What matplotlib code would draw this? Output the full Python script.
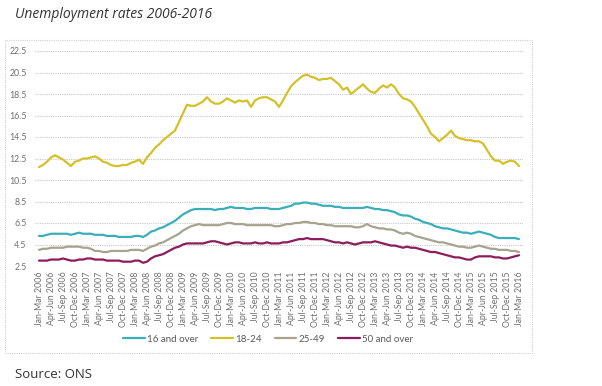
import numpy as np
import matplotlib.pyplot as plt
from matplotlib.patches import Rectangle

plt.rcParams['font.family'] = ['Lato', 'DejaVu Sans']

# rolling three-month periods, Jan-Mar 2006 .. Jan-Mar 2016 (monthly steps)
quarters = ['Jan-Mar', 'Apr-Jun', 'Jul-Sep', 'Oct-Dec']
years = list(range(2006, 2017))

age_16_over = [5.3, 5.3, 5.4, 5.5, 5.5, 5.5, 5.5, 5.5, 5.4, 5.5, 5.6, 5.5,
               5.5, 5.5, 5.4, 5.4, 5.4, 5.3, 5.3, 5.3, 5.2, 5.2, 5.2, 5.2,
               5.3, 5.3, 5.2, 5.4, 5.7, 5.8, 6.0, 6.1, 6.3, 6.5, 6.7, 7.0,
               7.3, 7.5, 7.7, 7.8, 7.8, 7.8, 7.8, 7.8, 7.7, 7.8, 7.8, 7.9,
               8.0, 7.9, 7.9, 7.9, 7.8, 7.8, 7.9, 7.9, 7.9, 7.9, 7.8, 7.8,
               7.8, 7.9, 8.0, 8.1, 8.3, 8.3, 8.4, 8.4, 8.3, 8.3, 8.2, 8.1,
               8.1, 8.1, 8.0, 8.0, 7.9, 7.9, 7.9, 7.9, 7.9, 7.9, 8.0, 7.9,
               7.8, 7.8, 7.7, 7.7, 7.6, 7.5, 7.3, 7.2, 7.2, 7.1, 6.9, 6.8,
               6.6, 6.5, 6.4, 6.2, 6.1, 6.0, 6.0, 5.9, 5.8, 5.7, 5.6, 5.6,
               5.5, 5.6, 5.7, 5.6, 5.5, 5.4, 5.2, 5.1, 5.1, 5.1, 5.1, 5.1,
               5.0]

age_18_24 = [11.7, 11.9, 12.2, 12.6, 12.8, 12.6, 12.4, 12.1, 11.8, 12.2, 12.3, 12.5,
             12.5, 12.6, 12.7, 12.5, 12.2, 12.1, 11.9, 11.8, 11.8, 11.9, 11.9, 12.1,
             12.2, 12.4, 12.0, 12.6, 13.0, 13.5, 13.8, 14.2, 14.5, 14.8, 15.1, 15.9,
             16.7, 17.5, 17.4, 17.4, 17.6, 17.8, 18.2, 17.8, 17.6, 17.6, 17.8, 18.1,
             17.9, 17.7, 17.9, 17.8, 17.9, 17.3, 17.9, 18.1, 18.2, 18.2, 18.0, 17.8,
             17.3, 17.9, 18.6, 19.2, 19.6, 19.9, 20.2, 20.3, 20.1, 20.0, 19.8, 19.9,
             19.9, 20.0, 19.7, 19.4, 18.9, 19.1, 18.5, 18.8, 19.1, 19.4, 19.0, 18.7,
             18.6, 19.0, 19.3, 19.1, 19.4, 19.1, 18.5, 18.1, 18.0, 17.8, 17.3, 16.7,
             16.1, 15.5, 14.8, 14.5, 14.1, 14.4, 14.7, 15.1, 14.6, 14.4, 14.3, 14.2,
             14.2, 14.1, 14.1, 13.9, 13.3, 12.7, 12.3, 12.3, 12.0, 12.2, 12.3, 12.2,
             11.8]

age_25_49 = [4.0, 4.1, 4.1, 4.2, 4.2, 4.2, 4.2, 4.3, 4.3, 4.3, 4.3, 4.2,
             4.2, 4.1, 3.9, 3.9, 3.8, 3.8, 3.9, 3.9, 3.9, 3.9, 3.9, 4.0,
             4.0, 4.0, 3.9, 4.1, 4.3, 4.4, 4.6, 4.7, 4.9, 5.1, 5.3, 5.5,
             5.8, 6.0, 6.2, 6.3, 6.4, 6.3, 6.3, 6.3, 6.3, 6.3, 6.4, 6.5,
             6.5, 6.4, 6.4, 6.4, 6.3, 6.3, 6.3, 6.3, 6.3, 6.3, 6.3, 6.2,
             6.2, 6.3, 6.4, 6.4, 6.5, 6.5, 6.6, 6.6, 6.5, 6.5, 6.4, 6.4,
             6.3, 6.3, 6.2, 6.2, 6.2, 6.2, 6.2, 6.1, 6.1, 6.2, 6.4, 6.2,
             6.1, 6.0, 6.0, 5.9, 5.9, 5.8, 5.6, 5.5, 5.6, 5.5, 5.3, 5.2,
             5.1, 5.0, 4.9, 4.8, 4.7, 4.7, 4.6, 4.5, 4.4, 4.3, 4.3, 4.2,
             4.2, 4.3, 4.4, 4.3, 4.2, 4.1, 4.1, 4.0, 4.0, 4.0, 3.9, 3.9,
             3.8]

age_50_over = [3.0, 3.0, 3.0, 3.1, 3.1, 3.1, 3.2, 3.1, 3.0, 3.0, 3.1, 3.1,
               3.2, 3.2, 3.1, 3.1, 3.1, 3.0, 3.0, 3.0, 3.0, 2.9, 2.9, 2.9,
               3.0, 3.0, 2.8, 2.9, 3.2, 3.4, 3.5, 3.6, 3.8, 4.0, 4.2, 4.3,
               4.5, 4.6, 4.6, 4.6, 4.6, 4.6, 4.7, 4.8, 4.8, 4.7, 4.6, 4.5,
               4.6, 4.7, 4.7, 4.6, 4.6, 4.6, 4.7, 4.6, 4.6, 4.7, 4.6, 4.6,
               4.6, 4.7, 4.7, 4.8, 4.9, 5.0, 5.0, 5.1, 5.0, 5.0, 5.0, 5.0,
               4.9, 4.8, 4.7, 4.7, 4.6, 4.7, 4.6, 4.5, 4.6, 4.7, 4.7, 4.7,
               4.8, 4.7, 4.6, 4.5, 4.4, 4.4, 4.3, 4.2, 4.3, 4.2, 4.2, 4.1,
               4.0, 3.9, 3.8, 3.8, 3.7, 3.6, 3.5, 3.4, 3.3, 3.3, 3.2, 3.1,
               3.1, 3.3, 3.4, 3.4, 3.4, 3.4, 3.3, 3.3, 3.2, 3.2, 3.3, 3.4,
               3.5]

series = [('16 and over', age_16_over, '#3aafb9'),
          ('18-24', age_18_24, '#d4c12a'),
          ('25-49', age_25_49, '#a6a38e'),
          ('50 and over', age_50_over, '#8c1d5c')]

tick_labels = ['%s %d' % (q, y) for y in years for q in quarters][:41]

fig = plt.figure(figsize=(6.02, 3.86), dpi=100)
ax = fig.add_axes([35/602, 120/386, 488/602, 215/386])

x = np.arange(len(age_16_over))
for name, vals, col in series:
    ax.plot(x, vals, color=col, lw=1.6, label=name, solid_capstyle='round')

ax.set_xlim(-1, 121)
ax.set_ylim(2.5, 22.5)
ax.set_yticks(np.arange(2.5, 22.6, 2))
ax.set_yticklabels(['%.1f' % v for v in np.arange(2.5, 22.6, 2)])
ax.set_xticks(np.arange(0, 121, 3))
ax.set_xticklabels(tick_labels, rotation=90)
ax.tick_params(length=0, labelsize=6.3, labelcolor='#707070', pad=6)
ax.tick_params(axis='x', pad=4)
ax.grid(axis='y', color='#c8c8c8', lw=0.8, ls=(0, (1, 1)))
for s in ax.spines.values():
    s.set_visible(False)

ax.legend(loc='center', bbox_to_anchor=(268/602, 1 - 339/386),
          bbox_transform=fig.transFigure, ncol=4, frameon=False,
          fontsize=7, labelcolor='#595959', handlelength=2.2,
          handletextpad=0.2, columnspacing=1.4)

fig.patches.append(Rectangle((5/602, 1 - 353/386), 527/602, 313/386,
                             transform=fig.transFigure, fill=False,
                             edgecolor='#d0d0d0', lw=0.8, ls=(0, (1, 1))))

fig.text(15/602, 1 - 14/386, 'Unemployment rates 2006-2016', style='italic',
         fontsize=10, color='#333333', va='center', family=['Open Sans', 'DejaVu Sans'])
fig.text(15/602, 1 - 374/386, 'Source: ONS', fontsize=9.5, color='#333333',
         va='center', family=['Open Sans', 'DejaVu Sans'])

fig.savefig('out.png', dpi=100)
